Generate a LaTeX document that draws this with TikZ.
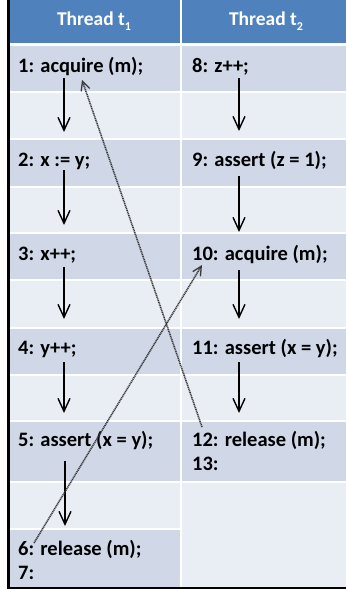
\documentclass[tikz,border=0pt]{standalone}
\usepackage{fontspec}
\setmainfont{Carlito}
\usetikzlibrary{arrows.meta}
\definecolor{hdr}{HTML}{4F81BD}
\definecolor{rowdark}{HTML}{D0D8E8}
\definecolor{rowlight}{HTML}{E9EDF4}
\definecolor{dotc}{HTML}{3A3A3A}
\newcommand{\subs}[1]{\raisebox{-0.28em}{\fontsize{12}{12}\selectfont #1}}
\begin{document}
\begin{tikzpicture}[x=1pt,y=-1pt,
  txt/.style={anchor=base west,inner sep=0pt,font=\fontsize{20.5}{24}\selectfont\bfseries,text=black},
  hdrtxt/.style={anchor=base,inner sep=0pt,font=\fontsize{19.5}{22}\selectfont\bfseries,text=white},
  flow/.style={line width=1.4pt,-{Straight Barb[length=13pt,width=12pt,line width=1.4pt]}},
  lockarrow/.style={line width=1.6pt,dotc,dash pattern=on 1.1pt off 0.7pt,-{Straight Barb[length=9pt,width=9pt,line width=1.3pt]}}]
\useasboundingbox (0,0) rectangle (346,589);
\fill[white] (0,0) rectangle (346,589);
% header
\fill[hdr] (9,0) rectangle (346,44);
% rows
\foreach \a/\b/\c in {44/92/rowdark,92/139/rowlight,139/187/rowdark,187/233/rowlight,233/280/rowdark,280/328/rowlight,328/375/rowdark,375/421/rowlight,421/482/rowdark,482/529/rowlight,529/587/rowdark}
  \fill[\c] (9,\a) rectangle (180,\b);
\foreach \a/\b/\c in {44/92/rowdark,92/139/rowlight,139/187/rowdark,187/233/rowlight,233/280/rowdark,280/328/rowlight,328/375/rowdark,375/421/rowlight,421/482/rowdark,482/587/rowlight}
  \fill[\c] (180,\a) rectangle (346,\b);
% white grid lines
\foreach \y in {92,139,187,233,280,328,375,421,482,529}
  \draw[white,line width=2pt] (9,\y) -- (180,\y);
\foreach \y in {92,139,187,233,280,328,375,421,482}
  \draw[white,line width=2pt] (180,\y) -- (346,\y);
\draw[white,line width=3pt] (9,44.5) -- (346,44.5);
\draw[white,line width=2pt] (180.5,0) -- (180.5,587);
% shadow border
\draw[black,line width=3pt] (8,0) -- (8,589);
\draw[black,line width=2pt] (6.5,588) -- (346,588);
% header text
\node[hdrtxt] (h1) at (94,25) {Thread t\subs{1}};
\node[hdrtxt] (h2) at (266,25) {Thread t\subs{2}};
% left column
\node[txt] (t1) at (18,72) {1: acquire (m);};
\node[txt] (t2) at (18,166) {2: x := y;};
\node[txt] (t3) at (18,260) {3: x++;};
\node[txt] (t4) at (18,354) {4: y++;};
\node[txt] (t5) at (18,446) {5: assert (x = y);};
\node[txt] (t6) at (18,555) {6: release (m);};
\node[txt] (t7) at (18,579) {7:};
% right column
\node[txt] (t8) at (192,72) {8: z++;};
\node[txt] (t9) at (192,166) {9: assert (z = 1);};
\node[txt] (t10) at (192,260) {10: acquire (m);};
\node[txt] (t11) at (192,354) {11: assert (x = y);};
\node[txt] (t12) at (192,446) {12: release (m);};
\node[txt] (t13) at (192,470) {13:};
% arrow endpoints
\coordinate (l1s) at (64,78);  \coordinate (l1e) at (64,132);
\coordinate (l2s) at (64,170); \coordinate (l2e) at (64,225);
\coordinate (l3s) at (64,267); \coordinate (l3e) at (64,319);
\coordinate (l4s) at (64,362); \coordinate (l4e) at (64,413);
\coordinate (l5s) at (65,461); \coordinate (l5e) at (65,526);
\coordinate (r1s) at (239,78);  \coordinate (r1e) at (239,131);
\coordinate (r2s) at (239,176); \coordinate (r2e) at (239,232);
\coordinate (r3s) at (239,270); \coordinate (r3e) at (239,319);
\coordinate (r4s) at (239,362); \coordinate (r4e) at (239,413);
\draw[flow] (l1s) -- (l1e);
\draw[flow] (l2s) -- (l2e);
\draw[flow] (l3s) -- (l3e);
\draw[flow] (l4s) -- (l4e);
\draw[flow] (l5s) -- (l5e);
\draw[flow] (r1s) -- (r1e);
\draw[flow] (r2s) -- (r2e);
\draw[flow] (r3s) -- (r3e);
\draw[flow] (r4s) -- (r4e);
% synchronisation arrows
\coordinate (relA) at (202,427);
\coordinate (acqA) at (82,80);
\coordinate (relB) at (34,543);
\coordinate (acqB) at (202,265);
\draw[lockarrow] (relA) -- (acqA);
\draw[lockarrow] (relB) -- (acqB);
\end{tikzpicture}
\end{document}
